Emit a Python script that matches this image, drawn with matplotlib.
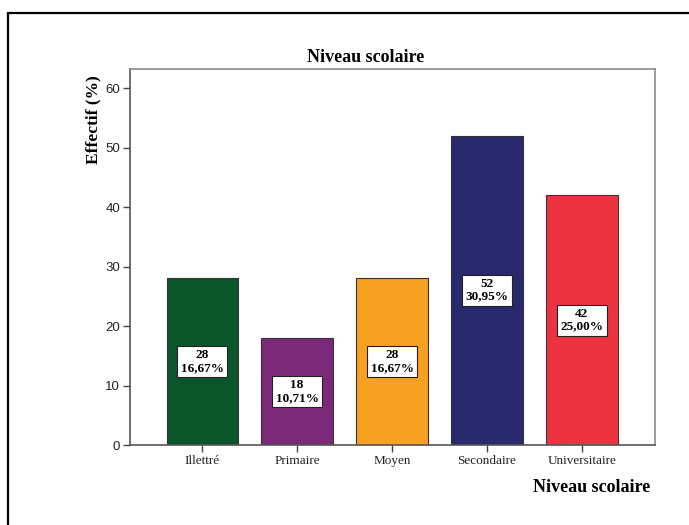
import matplotlib.pyplot as plt
from matplotlib.patches import Rectangle

niveaux = ["Illettré", "Primaire", "Moyen", "Secondaire", "Universitaire"]
effectifs = [28, 18, 28, 52, 42]
pourcentages = ["16,67%", "10,71%", "16,67%", "30,95%", "25,00%"]
couleurs = ["#0b552b", "#7b2979", "#f7a021", "#29296e", "#ee3340"]

SERIF = ["Liberation Serif", "DejaVu Serif"]
NARROW = ["Liberation Sans Narrow", "Liberation Sans", "DejaVu Sans"]

fig = plt.figure(figsize=(6.89, 5.25), dpi=100)
W, H = 689, 525
ax = fig.add_axes([130 / W, 1 - 445 / H, (655 - 130) / W, (445 - 69) / H])

# cadre noir autour du graphique (déborde à droite et en bas)
fig.patches.append(Rectangle((8 / W, -0.05), 1.1, 1 - 13 / H + 0.05,
                             transform=fig.transFigure, fill=False,
                             edgecolor="black", linewidth=1.6, clip_on=False))

x = range(len(niveaux))
ax.bar(x, effectifs, width=0.75, color=couleurs, edgecolor="#333333", linewidth=0.8, zorder=2)

for i, (v, p) in enumerate(zip(effectifs, pourcentages)):
    ax.text(i, v / 2, f"{v}\n{p}", ha="center", va="center", fontsize=9.5,
            fontweight="bold", family=SERIF, linespacing=1.05, zorder=3,
            bbox=dict(boxstyle="square,pad=0.25", facecolor="white",
                      edgecolor="#222222", linewidth=0.8))

ax.set_xlim(-0.76, 4.77)
ax.set_ylim(0, 63.2)
ax.set_yticks([0, 10, 20, 30, 40, 50, 60])
ax.set_xticks(list(x))
ax.set_xticklabels(niveaux, family=SERIF, fontsize=9.5)
for lab in ax.get_yticklabels():
    lab.set_family(NARROW)
    lab.set_fontsize(9.5)
ax.tick_params(axis="both", direction="out", length=5, width=1, color="#444444",
               labelcolor="#222222", pad=2)

for s in ax.spines.values():
    s.set_color("#8c8c8c")
    s.set_linewidth(1.2)
ax.spines["left"].set_color("#555555")
ax.spines["bottom"].set_color("#555555")

fig.text(366 / W, 1 - 57 / H, "Niveau scolaire", ha="center", va="center",
         fontsize=13, fontweight="bold", family=SERIF)
fig.text(93 / W, 1 - 120 / H, "Effectif (%)", ha="center", va="center",
         rotation=90, fontsize=12.5, fontweight="bold", family=SERIF)
fig.text(650 / W, 1 - 487 / H, "Niveau scolaire", ha="right", va="center",
         fontsize=13, fontweight="bold", family=SERIF)

fig.savefig("out.png", dpi=100)
